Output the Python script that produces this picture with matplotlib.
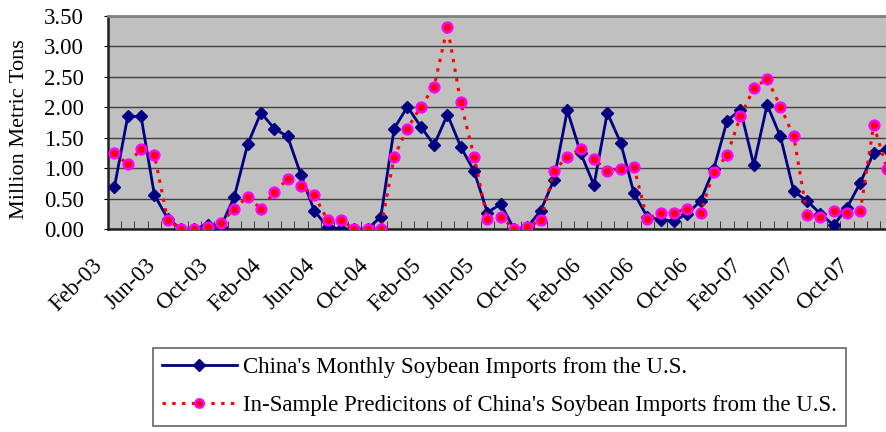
import matplotlib
matplotlib.use("Agg")
import matplotlib.pyplot as plt
import matplotlib.transforms as mtransforms
from matplotlib.ticker import FixedLocator, FormatStrFormatter

plt.rcParams['font.family'] = ['Liberation Serif', 'DejaVu Serif']

# monthly values, Feb-03 .. Dec-07 (million metric tons)
actual = [0.69, 1.85, 1.85, 0.56, 0.17, 0.00, 0.00, 0.07, 0.04, 0.53,
          1.39, 1.91, 1.65, 1.52, 0.89, 0.30, 0.03, 0.00, 0.00, 0.00,
          0.20, 1.65, 2.01, 1.68, 1.38, 1.88, 1.35, 0.95, 0.27, 0.41,
          0.00, 0.03, 0.30, 0.81, 1.95, 1.25, 0.72, 1.91, 1.42, 0.59,
          0.20, 0.15, 0.13, 0.25, 0.46, 0.99, 1.78, 1.96, 1.05, 2.04,
          1.52, 0.62, 0.46, 0.25, 0.06, 0.35, 0.76, 1.25, 1.31]

predicted = [1.25, 1.06, 1.32, 1.22, 0.14, 0.00, 0.00, 0.03, 0.10, 0.33,
             0.53, 0.33, 0.60, 0.82, 0.70, 0.56, 0.14, 0.14, 0.00, 0.00,
             0.00, 1.19, 1.65, 2.01, 2.34, 3.32, 2.08, 1.19, 0.16, 0.20,
             0.00, 0.03, 0.14, 0.95, 1.19, 1.32, 1.15, 0.95, 0.99, 1.02,
             0.16, 0.27, 0.27, 0.33, 0.27, 0.93, 1.22, 1.85, 2.31, 2.47,
             2.01, 1.52, 0.23, 0.20, 0.30, 0.27, 0.30, 1.71, 0.99]

tick_labels = ["Feb-03", "Jun-03", "Oct-03", "Feb-04", "Jun-04", "Oct-04",
               "Feb-05", "Jun-05", "Oct-05", "Feb-06", "Jun-06", "Oct-06",
               "Feb-07", "Jun-07", "Oct-07"]

x = list(range(len(actual)))

fig = plt.figure(figsize=(8.87, 4.32), dpi=100)
# plot area runs a little past the right edge of the picture
ax = fig.add_axes([0.1215, 0.470, 0.886, 0.493])
ax.set_facecolor('#C0C0C0')

l1, = ax.plot(x, actual, color='#000080', lw=2, marker='D', markersize=6.5,
              markerfacecolor='#000080', markeredgecolor='#000080', zorder=3,
              label="China's Monthly Soybean Imports from the U.S.")
l2, = ax.plot(x, predicted, color='#FF0000', lw=2.2, linestyle=(0, (1.1, 2.1)),
              marker='o', markersize=7, markerfacecolor='#FF0000',
              markeredgecolor='#FF00FF', markeredgewidth=1.8, zorder=4,
              label="In-Sample Predicitons of China's Soybean Imports from the U.S.")

ax.set_xlim(-0.5, len(actual) - 0.5)
ax.set_ylim(0, 3.5)
ax.set_yticks([0, 0.5, 1.0, 1.5, 2.0, 2.5, 3.0, 3.5])
ax.yaxis.set_major_formatter(FormatStrFormatter('%.2f'))
ax.grid(axis='y', color='#404040', lw=1)
ax.set_axisbelow(True)

# month labels every 4th category, drawn as texts so they can sit left of the tick
major = list(range(0, len(actual), 4))
ax.set_xticks(major)
ax.set_xticklabels([])
shift = mtransforms.ScaledTranslation(-23 / 100, -26 / 100, fig.dpi_scale_trans)
for pos, lab in zip(major, tick_labels):
    ax.text(pos, 0, lab, transform=ax.get_xaxis_transform() + shift,
            rotation=45, ha='right', va='top', rotation_mode='anchor',
            fontsize=16.5, clip_on=False)
ax.xaxis.set_minor_locator(FixedLocator([i - 0.5 for i in range(len(actual) + 1)]))
ax.tick_params(axis='x', which='major', length=0)
ax.tick_params(axis='x', which='minor', direction='in', length=6, color='#202020')
ax.tick_params(axis='y', direction='out', length=3, labelsize=16.5, pad=14)

for s in ['left', 'bottom']:
    ax.spines[s].set_color('#202020')
    ax.spines[s].set_linewidth(1.8)
ax.spines['top'].set_color('#808080')
ax.spines['top'].set_linewidth(2)
ax.spines['right'].set_visible(False)

ax.set_ylabel('Million Metric Tons', fontsize=16)
ax.yaxis.set_label_coords(-0.100, 0.47)

leg = fig.legend(handles=[l1, l2], loc='upper left',
                 bbox_to_anchor=(152.5 / 887, 1 - 348 / 432), fontsize=16.5,
                 frameon=True, fancybox=False, edgecolor='#404040',
                 handlelength=3.3, handletextpad=0.25, labelspacing=0.75,
                 borderpad=0.4, borderaxespad=0)
leg.get_frame().set_linewidth(1.2)
for h in leg.legend_handles:
    h.set_markersize(6)

fig.savefig('out.png', dpi=100)
